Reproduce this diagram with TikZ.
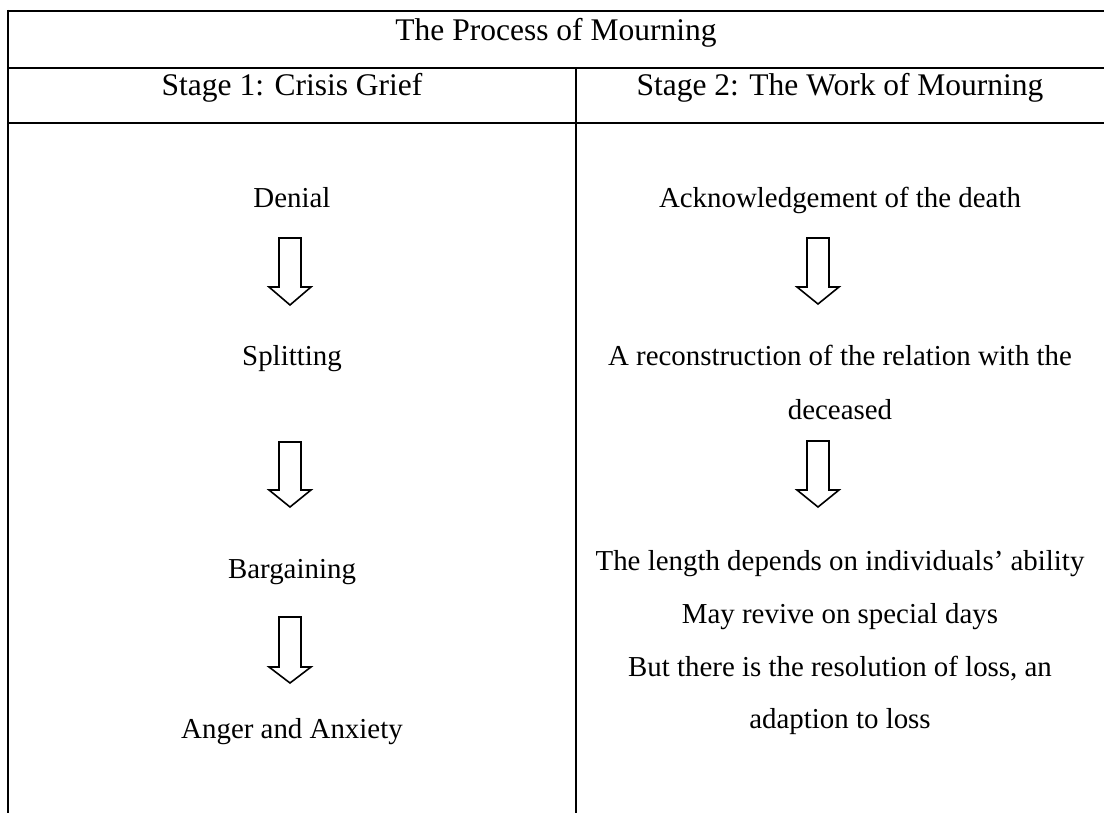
\documentclass[tikz,border=0pt]{standalone}
\usepackage{fontspec}
\setmainfont{Liberation Serif}
\newcommand\blockarrowat[4]{%
  \draw[blockarrow] ({#1-11},#2) -- ({#1+11},#2) -- ({#1+11},#3) -- ({#1+21},#3)
    -- (#1,#4) -- ({#1-21},#3) -- ({#1-11},#3) -- cycle;}
\begin{document}
\begin{tikzpicture}[x=1pt,y=-1pt,
  rule/.style={line width=2pt},
  head/.style={anchor=base,inner sep=0pt,font=\fontsize{31.5}{38}\selectfont},
  lbl/.style={anchor=base,inner sep=0pt,font=\fontsize{28.9}{35}\selectfont},
  blockarrow/.style={draw,line width=1.6pt,line join=miter,fill=white}]
\useasboundingbox (0,0) rectangle (1104,813);
\fill[white] (0,0) rectangle (1104,813);
% table rules
\draw[rule] (7,11) -- (1104,11);
\draw[rule] (7,68) -- (1104,68);
\draw[rule] (7,123) -- (1104,123);
\draw[rule] (8,10) -- (8,813);
\draw[rule] (576,68) -- (576,813);
% headers
\node[head] (title) at (556,41) {The Process of Mourning};
\node[head] (s1) at (292,96) {Stage 1: Crisis Grief};
\node[head] (s2) at (840,96) {Stage 2: The Work of Mourning};
% left column
\node[lbl] (denial) at (292,208) {Denial};
\node[lbl] (split) at (292,366) {Splitting};
\node[lbl] (barg) at (292,578) {Bargaining};
\node[lbl] (anger) at (292,738) {Anger and Anxiety};
\blockarrowat{290}{238}{287}{305}
\blockarrowat{290}{442}{490}{507}
\blockarrowat{290}{617}{667}{683}
% right column
\node[lbl] (ack) at (840,208) {Acknowledgement of the death};
\node[lbl] (rec1) at (840,366) {A reconstruction of the relation with the};
\node[lbl] (rec2) at (840,419) {deceased};
\node[lbl] (len) at (840,570) {The length depends on individuals’ ability};
\node[lbl] (may) at (840,623) {May revive on special days};
\node[lbl] (but) at (840,676) {But there is the resolution of loss, an};
\node[lbl] (adapt) at (840,728) {adaption to loss};
\blockarrowat{818}{238}{287}{304}
\blockarrowat{818}{441}{490}{507}
\end{tikzpicture}
\end{document}
